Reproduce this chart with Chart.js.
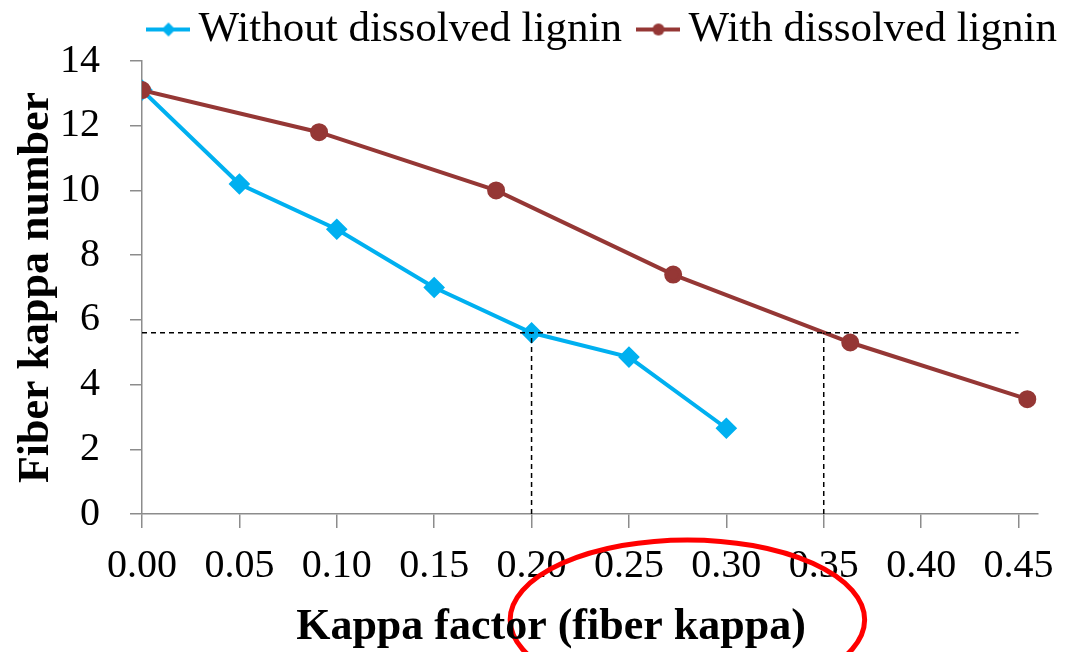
<!DOCTYPE html>
<html>
<head>
<meta charset="utf-8">
<script src="https://cdn.jsdelivr.net/npm/chart.js@4"></script>
<style>
  html, body { margin: 0; padding: 0; background: #fff; }
  #wrap { width: 1074px; height: 652px; position: relative; }
</style>
</head>
<body>
<div id="wrap"><canvas id="kappa-chart"></canvas></div>
<script>
// values
const withoutX = [0, 0.05, 0.10, 0.15, 0.20, 0.25, 0.30];
const withoutY = [13.1, 10.2, 8.8, 7.0, 5.6, 4.85, 2.65];
const withX = [0, 0.0909, 0.1818, 0.2727, 0.3636, 0.4545];
const withY = [13.1, 11.8, 10.0, 7.4, 5.3, 3.55];

const xTicks = [0, 0.05, 0.10, 0.15, 0.20, 0.25, 0.30, 0.35, 0.40, 0.45];
const yTicks = [0, 2, 4, 6, 8, 10, 12, 14];

const xTitle = 'Kappa factor (fiber kappa)';
const yTitle = 'Fiber kappa number';

// dashed guide: target fiber kappa and the two kappa factors that reach it
const targetKappa = 5.6;
const guideX = [0.20, 0.35];
const guideEnd = 0.45;

// red hand-drawn ellipse, in data units
const ring = { x: 0.28, y: -3.27, rx: 0.091, ry: 2.47 };

const BLUE = '#00b0f0';
const RED = '#953735';
const AXIS = '#8c8c8c';
const FONT = '"Liberation Serif", "Times New Roman", serif';

function legendIcon(color, marker) {
  const c = document.createElement('canvas');
  c.width = 44; c.height = 16;
  const g = c.getContext('2d');
  g.strokeStyle = color;
  g.lineWidth = 4;
  g.beginPath(); g.moveTo(0, 8); g.lineTo(44, 8); g.stroke();
  g.fillStyle = color;
  g.beginPath();
  if (marker === 'diamond') {
    g.moveTo(22, 1); g.lineTo(29, 8); g.lineTo(22, 15); g.lineTo(15, 8);
  } else {
    g.arc(22, 8, 6, 0, Math.PI * 2);
  }
  g.closePath(); g.fill();
  return c;
}

const pts = (xs, ys) => xs.map((x, i) => ({ x, y: ys[i] }));

const datasets = [
  {
    label: 'Without dissolved lignin',
    data: pts(withoutX, withoutY),
    borderColor: BLUE,
    backgroundColor: BLUE,
    borderWidth: 4,
    pointStyle: 'rectRot',
    pointRadius: 8,
    pointHoverRadius: 8,
    showLine: true,
    order: 2,
    legendIcon: legendIcon(BLUE, 'diamond'),
  },
  {
    label: 'With dissolved lignin',
    data: pts(withX, withY),
    borderColor: RED,
    backgroundColor: RED,
    borderWidth: 4,
    pointStyle: 'circle',
    pointRadius: 7,
    pointHoverRadius: 7,
    showLine: true,
    order: 1,
    legendIcon: legendIcon(RED, 'circle'),
  },
  {
    label: 'guide-h',
    data: [{ x: 0, y: targetKappa }, { x: guideEnd, y: targetKappa }],
    guide: true,
  },
  ...guideX.map((gx, i) => ({
    label: 'guide-v' + i,
    data: [{ x: gx, y: 0 }, { x: gx, y: targetKappa }],
    guide: true,
  })),
].map(ds => ds.guide ? {
  ...ds,
  borderColor: '#000',
  borderWidth: 1.5,
  borderDash: [5, 4],
  pointRadius: 0,
  showLine: true,
  order: 0,
} : ds);

const ringPlugin = {
  id: 'ring',
  afterDraw(chart) {
    const { ctx, scales: { x, y } } = chart;
    const cx = x.getPixelForValue(ring.x);
    const cy = y.getPixelForValue(ring.y);
    const rx = x.getPixelForValue(ring.x + ring.rx) - cx;
    const ry = cy - y.getPixelForValue(ring.y + ring.ry);
    ctx.save();
    ctx.strokeStyle = '#ff0000';
    ctx.lineWidth = 5;
    ctx.beginPath();
    ctx.ellipse(cx, cy, rx, ry, 0, 0, Math.PI * 2);
    ctx.stroke();
    ctx.restore();
  },
};

// x title in the reference is centred a bit left of the plot centre
const xTitlePlugin = {
  id: 'xTitle',
  afterDraw(chart) {
    const { ctx, chartArea, height } = chart;
    ctx.save();
    ctx.font = `bold 44px ${FONT}`;
    ctx.fillStyle = '#000';
    ctx.textAlign = 'center';
    ctx.textBaseline = 'middle';
    ctx.fillText(xTitle, (chartArea.left + chartArea.right) / 2 - 39, height - 24);
    ctx.restore();
  },
};

// legend sits further right than the plot's right edge
const legendShift = {
  id: 'legendShift',
  afterLayout(chart) {
    chart.legend.left += 47;
    chart.legend.right += 47;
  },
};

new Chart(document.getElementById('kappa-chart'), {
  type: 'scatter',
  data: { datasets },
  options: {
    responsive: true,
    maintainAspectRatio: false,
    animation: false,
    layout: { padding: { left: 10, right: 36, top: -20, bottom: 0 } },
    plugins: {
      tooltip: { enabled: false },
      legend: {
        position: 'top',
        align: 'end',
        labels: {
          filter: (item, data) => !data.datasets[item.datasetIndex].guide,
          generateLabels: (chart) => chart.data.datasets.map((ds, i) => ({
            text: ds.label,
            datasetIndex: i,
            pointStyle: ds.legendIcon,
            fontColor: '#000',
            lineWidth: 0,
            hidden: false,
          })),
          usePointStyle: true,
          pointStyleWidth: 17,
          boxHeight: 16,
          padding: 28,
          color: '#000',
          font: { family: FONT, size: 43 },
        },
      },
    },
    scales: {
      x: {
        type: 'linear',
        min: 0,
        max: 0.46,
        afterBuildTicks: (scale) => { scale.ticks = xTicks.map(v => ({ value: v })); },
        afterFit: (scale) => { scale.height = 138; },
        border: { color: AXIS, width: 1.5 },
        grid: { drawOnChartArea: false, drawTicks: true, tickLength: 14, color: AXIS, lineWidth: 1.5 },
        ticks: {
          color: '#000',
          padding: 14,
          maxRotation: 0,
          font: { family: FONT, size: 40 },
          callback: (v) => v.toFixed(2),
        },
        title: { display: false },
      },
      y: {
        type: 'linear',
        min: 0,
        max: 14,
        afterBuildTicks: (scale) => { scale.ticks = yTicks.map(v => ({ value: v })); },
        afterFit: (scale) => { scale.width = 132; },
        border: { color: AXIS, width: 1.5 },
        grid: { drawOnChartArea: false, drawTicks: true, tickLength: 12, color: AXIS, lineWidth: 1.5 },
        ticks: {
          color: '#000',
          padding: 30,
          font: { family: FONT, size: 40 },
        },
        title: {
          display: true,
          text: yTitle,
          color: '#000',
          padding: { top: 0, bottom: 0 },
          font: { family: FONT, size: 44, weight: 'bold' },
        },
      },
    },
  },
  plugins: [ringPlugin, xTitlePlugin, legendShift],
});
</script>
</body>
</html>
